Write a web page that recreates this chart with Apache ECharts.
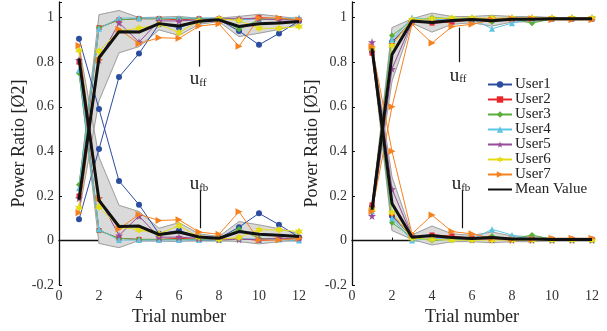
<!DOCTYPE html>
<html>
<head>
<meta charset="utf-8">
<script src="https://cdn.jsdelivr.net/npm/echarts@6/dist/echarts.min.js"></script>
<style>
  html, body { margin: 0; padding: 0; background: #fff; }
  #chart { width: 607px; height: 331px; }
</style>
</head>
<body>
<div id="chart"></div>
<script>
const trials = [1, 2, 3, 4, 5, 6, 7, 8, 9, 10, 11, 12]
const userNames = ['User1', 'User2', 'User3', 'User4', 'User5', 'User6', 'User7']

// Ø2 panel: u_ff (low at trial 1, rising to ~1) and u_fb (high at trial 1, falling to ~0)
const ff2 = [
  [0.095, 0.41, 0.733, 0.839, 0.97, 0.955, 0.985, 0.99, 0.94, 0.878, 0.929, 0.985],
  [0.20, 0.955, 0.99, 0.995, 0.995, 0.99, 0.995, 0.995, 0.99, 1.0, 0.995, 0.99],
  [0.25, 0.955, 0.99, 0.995, 0.995, 0.995, 0.995, 0.995, 0.948, 0.99, 0.995, 0.99],
  [0.235, 0.95, 0.998, 0.998, 0.998, 0.998, 0.998, 0.998, 0.99, 0.995, 0.995, 1.0],
  [0.19, 0.81, 0.977, 0.89, 0.985, 0.985, 0.99, 0.995, 0.995, 0.995, 0.99, 0.99],
  [0.147, 0.85, 0.94, 0.952, 0.97, 0.933, 0.985, 0.995, 0.987, 0.952, 0.952, 0.96],
  [0.125, 0.81, 0.948, 0.883, 0.91, 0.907, 0.962, 0.972, 0.871, 0.998, 0.998, 0.99],
]
const fb2 = [
  [0.905, 0.59, 0.267, 0.161, 0.03, 0.045, 0.015, 0.01, 0.06, 0.122, 0.071, 0.015],
  [0.80, 0.045, 0.01, 0.005, 0.005, 0.01, 0.005, 0.005, 0.01, 0.0, 0.005, 0.01],
  [0.75, 0.045, 0.01, 0.005, 0.005, 0.005, 0.005, 0.005, 0.052, 0.01, 0.005, 0.01],
  [0.765, 0.05, 0.002, 0.002, 0.002, 0.002, 0.002, 0.002, 0.01, 0.005, 0.005, 0.0],
  [0.81, 0.19, 0.023, 0.11, 0.015, 0.015, 0.01, 0.005, 0.005, 0.005, 0.01, 0.01],
  [0.853, 0.15, 0.06, 0.048, 0.03, 0.067, 0.015, 0.005, 0.013, 0.048, 0.048, 0.04],
  [0.875, 0.19, 0.052, 0.117, 0.09, 0.093, 0.038, 0.028, 0.129, 0.002, 0.002, 0.01],
]
const ffMean2 = [0.183, 0.82, 0.937, 0.935, 0.973, 0.962, 0.984, 0.99, 0.96, 0.972, 0.976, 0.982]
const fbMean2 = [0.817, 0.18, 0.063, 0.065, 0.027, 0.038, 0.016, 0.01, 0.04, 0.028, 0.024, 0.018]
const ffUpper2 = [0.24, 1.013, 1.032, 1.0, 1.002, 1.005, 0.997, 0.998, 1.005, 1.015, 1.005, 0.995]
const ffLower2 = [0.125, 0.627, 0.842, 0.87, 0.945, 0.92, 0.97, 0.982, 0.915, 0.93, 0.947, 0.97]
const fbUpper2 = [0.875, 0.373, 0.158, 0.13, 0.055, 0.08, 0.03, 0.018, 0.085, 0.07, 0.053, 0.03]
const fbLower2 = [0.76, -0.013, -0.032, 0.0, -0.002, -0.005, 0.003, 0.002, -0.005, -0.015, -0.005, 0.005]

// Ø5 panel
const ff5 = [
  [0.15, 0.89, 0.985, 0.98, 0.99, 0.995, 0.995, 0.995, 0.995, 0.995, 0.995, 0.995],
  [0.16, 0.88, 0.985, 0.975, 0.98, 0.99, 0.995, 0.995, 0.995, 0.995, 0.995, 0.995],
  [0.14, 0.92, 0.985, 1.0, 0.995, 0.998, 0.98, 0.995, 0.975, 0.995, 0.998, 0.998],
  [0.13, 0.9, 1.0, 0.99, 0.995, 0.995, 0.95, 0.975, 0.995, 0.998, 0.998, 0.998],
  [0.11, 0.77, 0.98, 0.985, 0.99, 0.995, 0.995, 0.998, 0.998, 0.998, 0.998, 0.998],
  [0.14, 0.875, 0.99, 0.995, 0.998, 0.998, 0.998, 0.998, 0.998, 0.998, 0.998, 0.998],
  [0.13, 0.6, 0.97, 0.886, 0.96, 0.97, 0.99, 0.995, 0.995, 0.99, 0.99, 0.99],
]
const fb5 = [
  [0.85, 0.11, 0.015, 0.02, 0.01, 0.005, 0.005, 0.005, 0.005, 0.005, 0.005, 0.005],
  [0.84, 0.12, 0.015, 0.025, 0.02, 0.01, 0.005, 0.005, 0.005, 0.005, 0.005, 0.005],
  [0.86, 0.08, 0.015, 0.0, 0.005, 0.002, 0.02, 0.005, 0.025, 0.005, 0.002, 0.002],
  [0.87, 0.1, 0.0, 0.01, 0.005, 0.005, 0.05, 0.025, 0.005, 0.002, 0.002, 0.002],
  [0.89, 0.23, 0.02, 0.015, 0.01, 0.005, 0.005, 0.002, 0.002, 0.002, 0.002, 0.002],
  [0.86, 0.125, 0.01, 0.005, 0.002, 0.002, 0.002, 0.002, 0.002, 0.002, 0.002, 0.002],
  [0.87, 0.4, 0.03, 0.114, 0.04, 0.03, 0.01, 0.005, 0.005, 0.01, 0.01, 0.01],
]
const ffMean5 = [0.138, 0.834, 0.985, 0.978, 0.987, 0.991, 0.986, 0.993, 0.993, 0.995, 0.995, 0.995]
const fbMean5 = [0.862, 0.166, 0.015, 0.022, 0.013, 0.009, 0.014, 0.007, 0.007, 0.005, 0.005, 0.005]
const ffUpper5 = [0.155, 0.955, 0.995, 1.02, 1.005, 1.005, 1.01, 1.005, 1.005, 1.0, 1.0, 1.0]
const ffLower5 = [0.12, 0.715, 0.975, 0.935, 0.97, 0.977, 0.962, 0.98, 0.982, 0.99, 0.99, 0.99]
const fbUpper5 = [0.88, 0.285, 0.025, 0.065, 0.03, 0.023, 0.038, 0.02, 0.018, 0.01, 0.01, 0.01]
const fbLower5 = [0.845, 0.045, 0.005, -0.02, -0.005, -0.005, -0.01, -0.005, -0.005, 0.0, 0.0, 0.0]

const colors = ['#2b4c9f', '#e8262a', '#5aae3a', '#5ec4e3', '#974b98', '#e4dc17', '#f5821f']
const STAR = 'path://M50,0 L61,35 L98,35 L68,57 L79,91 L50,70 L21,91 L32,57 L2,35 L39,35 Z'
const HEX = 'path://M50,0 L63,27 L93,25 L76,50 L93,75 L63,73 L50,100 L37,73 L7,75 L24,50 L7,25 L37,27 Z'
const symbols = ['circle', 'rect', 'diamond', 'triangle', STAR, HEX, 'triangle']
const symbolRotate = [0, 0, 0, 0, 0, 0, -90]
const symbolSizes = [6, 5, 6, 6, 8, 8, 7]

const serif = "'Liberation Serif', 'Times New Roman', serif"
const pair = (arr) => trials.map((t, i) => [t, arr[i]])

const series = []

// shaded spread band: one quad per trial step, plus grey edge lines
const addBand = (gi, upper, lower) => {
  const segs = trials.slice(0, -1).map((t, i) => [t, lower[i], upper[i], trials[i + 1], lower[i + 1], upper[i + 1]])
  series.push({
    type: 'custom', xAxisIndex: gi, yAxisIndex: gi, silent: true, z: 1,
    encode: { x: [0, 3], y: [1, 2, 4, 5] },
    data: segs,
    renderItem: (params, api) => {
      const pts = [
        api.coord([api.value(0), api.value(1)]),
        api.coord([api.value(3), api.value(4)]),
        api.coord([api.value(3), api.value(5)]),
        api.coord([api.value(0), api.value(2)]),
      ]
      return { type: 'polygon', shape: { points: pts }, style: { fill: '#dadada', stroke: '#dadada', lineWidth: 0.8 } }
    },
  })
  ;[upper, lower].forEach((edge) => {
    series.push({
      type: 'line', xAxisIndex: gi, yAxisIndex: gi, data: pair(edge), symbol: 'none',
      silent: true, z: 1, lineStyle: { color: '#a0a0a0', width: 1 },
    })
  })
}

const addUsers = (gi, table) => {
  table.forEach((vals, k) => {
    series.push({
      name: userNames[k], type: 'line', xAxisIndex: gi, yAxisIndex: gi,
      data: pair(vals), z: 2,
      symbol: symbols[k], symbolSize: symbolSizes[k], symbolRotate: symbolRotate[k],
      showAllSymbol: true,
      lineStyle: { color: colors[k], width: 1 },
      itemStyle: { color: colors[k] },
    })
  })
}

const addMean = (gi, vals) => {
  series.push({
    name: 'Mean Value', type: 'line', xAxisIndex: gi, yAxisIndex: gi,
    data: pair(vals), symbol: 'none', z: 3,
    lineStyle: { color: '#111', width: 3 },
    itemStyle: { color: '#111' },
  })
}

// arrows + u_ff / u_fb labels, placed in data coordinates
const addNote = (gi, x, text, tx, ty, from, to) => {
  series.push({
    type: 'line', xAxisIndex: gi, yAxisIndex: gi, data: [], z: 4, silent: true,
    markLine: {
      silent: true, symbol: ['none', 'arrow'], symbolSize: [0, 9],
      lineStyle: { color: '#111', width: 1.2, type: 'solid' },
      label: { show: false },
      data: [[{ coord: [x, from] }, { coord: [x, to] }]],
    },
    markPoint: {
      silent: true, symbol: 'circle', symbolSize: 0,
      label: {
        show: true, position: 'inside',
        formatter: '{u|u}{s|' + text + '}',
        rich: {
          u: { fontFamily: serif, fontSize: 19, color: '#222', verticalAlign: 'bottom' },
          s: { fontFamily: serif, fontSize: 11, color: '#222', verticalAlign: 'bottom', padding: [6, 0, 0, 0] },
        },
      },
      data: [{ coord: [tx, ty] }],
    },
  })
}

addBand(0, ffUpper2, ffLower2)
addBand(0, fbUpper2, fbLower2)
addBand(1, ffUpper5, ffLower5)
addBand(1, fbUpper5, fbLower5)
addUsers(0, ff2)
addUsers(0, fb2)
addUsers(1, ff5)
addUsers(1, fb5)
addMean(0, ffMean2)
addMean(0, fbMean2)
addMean(1, ffMean5)
addMean(1, fbMean5)
addNote(0, 7, 'ff', 6.95, 0.725, 0.78, 0.94)
addNote(0, 7.05, 'fb', 7.0, 0.255, 0.225, 0.055)
addNote(1, 5.35, 'ff', 5.3, 0.74, 0.80, 0.955)
addNote(1, 5.5, 'fb', 5.45, 0.255, 0.225, 0.055)

const xAxis = (gi) => ({
  type: 'value', gridIndex: gi, min: 0, max: 12, interval: 2,
  name: 'Trial number', nameLocation: 'middle', nameGap: 18,
  nameTextStyle: { fontFamily: serif, fontSize: 18, color: '#222' },
  axisLine: { lineStyle: { color: '#111', width: 1.3 } },
  axisTick: { inside: true, length: 3, lineStyle: { color: '#111' } },
  axisLabel: { fontFamily: serif, fontSize: 14, color: '#333', margin: 4 },
  splitLine: { show: false },
})

const yAxis = (gi, name) => ({
  type: 'value', gridIndex: gi, min: -0.2, max: 1.07, interval: 0.2,
  name, nameLocation: 'middle', nameGap: 27,
  nameTextStyle: { fontFamily: serif, fontSize: 18, color: '#222' },
  axisLine: { show: true, lineStyle: { color: '#111', width: 1.3 } },
  axisTick: { inside: true, length: 3, lineStyle: { color: '#111' } },
  axisLabel: {
    fontFamily: serif, fontSize: 14, color: '#333', margin: 5,
    formatter: (v) => {
      const r = Math.round(v * 5) / 5
      if (Math.abs(v - r) > 1e-6) return ''
      return String(parseFloat(r.toFixed(1)))
    },
  },
  splitLine: { show: false },
})

const chart = echarts.init(document.getElementById('chart'))
chart.setOption({
  animation: false,
  backgroundColor: '#fff',
  grid: [
    { left: 59, width: 240, top: 2, bottom: 37, containLabel: false },
    { left: 352, width: 240, top: 2, bottom: 37, containLabel: false },
  ],
  legend: {
    data: [...userNames.map((n) => ({ name: n })), { name: 'Mean Value', itemStyle: { opacity: 0 } }],
    orient: 'vertical', left: 487, top: 77,
    itemWidth: 24, itemHeight: 8, itemGap: 0,
    textStyle: { fontFamily: serif, fontSize: 15, color: '#222', lineHeight: 13, padding: [0, 0, 0, -2] },
    backgroundColor: '#fff',
    padding: 0,
  },
  xAxis: [xAxis(0), xAxis(1)],
  yAxis: [yAxis(0, 'Power Ratio [Ø2]'), yAxis(1, 'Power Ratio [Ø5]')],
  series,
})
</script>
</body>
</html>
